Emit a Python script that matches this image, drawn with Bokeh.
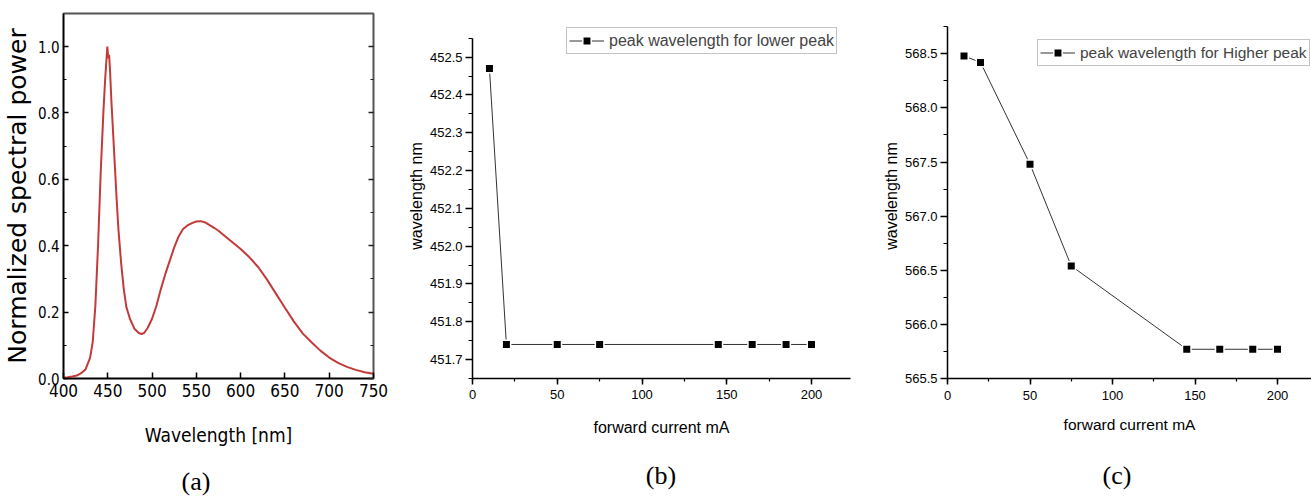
from bokeh.plotting import figure
from bokeh.layouts import row, column
from bokeh.models import (Range1d, LinearAxis, SingleIntervalTicker, PrintfTickFormatter,
                          Legend, LegendItem, Div)
from bokeh.embed import file_html
from bokeh.resources import INLINE

# ---------------- data ----------------
spec_wl = [400, 405, 410, 415, 420, 425, 430, 433, 436, 439, 442, 445, 447, 448.5, 449.5,
           450.5, 451.5, 452.5, 454, 456, 458, 460, 462, 465, 468, 471, 475, 480, 485, 488,
           491, 495, 500, 505, 510, 515, 520, 525, 530, 535, 540, 545, 550, 555, 560, 565,
           570, 575, 580, 590, 600, 610, 620, 630, 640, 650, 660, 670, 680, 690, 700, 710,
           720, 730, 740, 750]
spec_val = [0.003, 0.004, 0.006, 0.009, 0.016, 0.028, 0.062, 0.11, 0.22, 0.40, 0.62, 0.80,
            0.90, 0.96, 1.00, 0.965, 0.975, 0.93, 0.84, 0.74, 0.64, 0.54, 0.45, 0.35, 0.27,
            0.215, 0.18, 0.15, 0.137, 0.134, 0.137, 0.152, 0.18, 0.22, 0.27, 0.315, 0.355,
            0.395, 0.428, 0.45, 0.461, 0.468, 0.473, 0.474, 0.47, 0.462, 0.454, 0.445, 0.434,
            0.412, 0.39, 0.365, 0.335, 0.297, 0.255, 0.213, 0.172, 0.136, 0.109, 0.084,
            0.063, 0.047, 0.035, 0.026, 0.019, 0.014]

current_b = [10, 20, 50, 75, 145, 165, 185, 200]
peak_low = [452.47, 451.74, 451.74, 451.74, 451.74, 451.74, 451.74, 451.74]

current_c = [10, 20, 50, 75, 145, 165, 185, 200]
peak_high = [568.48, 568.42, 567.48, 566.54, 565.77, 565.77, 565.77, 565.77]

legend_b = "peak wavelength for lower peak"
legend_c = "peak wavelength for Higher peak"
captions = ["(a)", "(b)", "(c)"]

H = 455          # height of the three plots
CAP_H = 44       # caption strip below them
TOP = 13
BOTTOM = 77
SANS = "Liberation Sans"
NARROW = "'Liberation Sans Narrow', 'DejaVu Sans Condensed', 'Liberation Sans'"
SERIF = "Liberation Serif"


def base(width, ml, mr, xr, yr):
    p = figure(width=width, height=H, output_backend="svg", toolbar_location=None,
               x_range=Range1d(*xr), y_range=Range1d(*yr),
               min_border_left=ml, min_border_right=mr, min_border_top=TOP,
               min_border_bottom=BOTTOM, x_axis_type=None, y_axis_type=None)
    p.outline_line_color = None
    p.background_fill_color = "white"
    p.border_fill_color = "white"
    return p


def style_axis(ax, tick_font, tick_size, label_font, label_size):
    ax.axis_line_color = "black"
    ax.axis_line_width = 1.5
    ax.major_tick_line_color = "black"
    ax.major_tick_line_width = 1.5
    ax.minor_tick_line_color = "black"
    ax.minor_tick_line_width = 1.2
    ax.major_label_text_font = tick_font
    ax.major_label_text_font_size = tick_size
    ax.major_label_text_color = "black"
    ax.axis_label_text_font = label_font
    ax.axis_label_text_font_size = label_size
    ax.axis_label_text_font_style = "normal"
    ax.axis_label_text_color = "black"


# ---------------- panel (a) ----------------
pa = base(400, 61, 27, (400, 750), (0, 1.0994))
pa.outline_line_color = "#555555"
pa.outline_line_width = 2

xa = LinearAxis(ticker=SingleIntervalTicker(interval=50, num_minor_ticks=0),
                axis_label="Wavelength [nm]")
style_axis(xa, NARROW, "17px", NARROW, "19px")
xa.major_tick_in = 6
xa.major_tick_out = 0
xa.major_label_standoff = 5
xa.axis_label_standoff = 24
pa.add_layout(xa, "below")

ya = LinearAxis(ticker=SingleIntervalTicker(interval=0.2, num_minor_ticks=2),
                formatter=PrintfTickFormatter(format="%.1f"),
                axis_label="Normalized spectral power")
style_axis(ya, NARROW, "15px", "DejaVu Sans", "25px")
ya.major_tick_in = 5
ya.major_tick_out = 0
ya.minor_tick_in = 3
ya.minor_tick_out = 0
ya.major_label_standoff = 4
ya.axis_label_standoff = 3
pa.add_layout(ya, "left")

ra = LinearAxis(ticker=SingleIntervalTicker(interval=0.2, num_minor_ticks=2))
ra.axis_line_color = None
ra.major_label_text_color = None
ra.major_label_standoff = 0
ra.major_tick_in = 5
ra.major_tick_out = 0
ra.minor_tick_in = 3
ra.minor_tick_out = 0
ra.major_tick_line_color = "#222222"
ra.major_tick_line_width = 1.5
ra.minor_tick_line_color = "#222222"
ra.minor_tick_line_width = 1.2
pa.add_layout(ra, "right")

pa.line(spec_wl, spec_val, line_color="#c23a3a", line_width=2)

# ---------------- panel (b) ----------------
pb = base(460, 72, 10, (0, 223), (451.65, 452.6156))
xb = LinearAxis(ticker=SingleIntervalTicker(interval=50, num_minor_ticks=2),
                axis_label="forward current mA")
style_axis(xb, SANS, "13px", SANS, "16px")
xb.major_tick_out = 6
xb.major_tick_in = 0
xb.minor_tick_out = 3
xb.minor_tick_in = 0
xb.major_label_standoff = 5
xb.axis_label_standoff = 17
pb.add_layout(xb, "below")

yb = LinearAxis(ticker=SingleIntervalTicker(interval=0.1, num_minor_ticks=2),
                formatter=PrintfTickFormatter(format="%.1f"),
                axis_label="wavelength nm", bounds=(451.65, 452.55))
style_axis(yb, SANS, "13px", SANS, "16px")
yb.major_tick_out = 7
yb.major_tick_in = 0
yb.minor_tick_out = 4
yb.minor_tick_in = 0
yb.major_label_standoff = 3
yb.axis_label_standoff = 2
pb.add_layout(yb, "left")

lb = pb.line(current_b, peak_low, line_color="#333333", line_width=1)
sb = pb.scatter(current_b, peak_low, marker="square", size=8.5, fill_color="black",
                line_color="white", line_width=1.5)
legb = Legend(items=[LegendItem(label=legend_b, renderers=[lb, sb])], location=(94, 324))
pb.add_layout(legb)

# ---------------- panel (c) ----------------
pc = base(451, 87, 0, (0, 220.6), (565.5, 568.872))
xc = LinearAxis(ticker=SingleIntervalTicker(interval=50, num_minor_ticks=2),
                axis_label="forward current mA")
style_axis(xc, SANS, "13px", SANS, "15.5px")
xc.major_tick_out = 6
xc.major_tick_in = 0
xc.minor_tick_out = 3
xc.minor_tick_in = 0
xc.major_label_standoff = 6
xc.axis_label_standoff = 13
pc.add_layout(xc, "below")

yc = LinearAxis(ticker=SingleIntervalTicker(interval=0.5, num_minor_ticks=2),
                formatter=PrintfTickFormatter(format="%.1f"),
                axis_label="wavelength nm", bounds=(565.5, 568.75))
style_axis(yc, SANS, "13px", SANS, "16px")
yc.major_tick_out = 7
yc.major_tick_in = 0
yc.minor_tick_out = 4
yc.minor_tick_in = 0
yc.major_label_standoff = 3
yc.axis_label_standoff = 2
pc.add_layout(yc, "left")

lc = pc.line(current_c, peak_high, line_color="#333333", line_width=1)
sc = pc.scatter(current_c, peak_high, marker="square", size=8.5, fill_color="black",
                line_color="white", line_width=1.5)
legc = Legend(items=[LegendItem(label=legend_c, renderers=[lc, sc])], location=(90, 312))
pc.add_layout(legc)

for lg, fs in ((legb, "16px"), (legc, "15.5px")):
    lg.border_line_color = "#888888"
    lg.border_line_width = 1
    lg.padding = 2
    lg.spacing = 0
    lg.margin = 0
    lg.glyph_width = 35
    lg.glyph_height = 21
    lg.label_height = 21
    lg.label_standoff = 5
    lg.label_text_font = SANS
    lg.label_text_font_size = fs
    lg.background_fill_color = "white"
    lg.background_fill_alpha = 1.0

# ---------------- caption strip ----------------
cap_x = [196, 661, 1117]      # horizontal centres of the captions
cap_top = [14, 8, 8]          # top offsets inside the strip
spans = "".join(
    f'<span style="position:absolute;left:{x}px;top:{t}px;transform:translateX(-50%);'
    f'line-height:26px;white-space:nowrap">{c}</span>'
    for c, x, t in zip(captions, cap_x, cap_top))
cap = Div(text=(f'<div style="position:relative;width:1311px;height:{CAP_H}px;'
                f'font-family:{SERIF};font-size:26px;color:black;background:white">'
                f'{spans}</div>'),
          width=1311, height=CAP_H, margin=0)

layout = column(row(pa, pb, pc), cap, spacing=0)
open("out.html", "w").write(file_html(layout, INLINE))
